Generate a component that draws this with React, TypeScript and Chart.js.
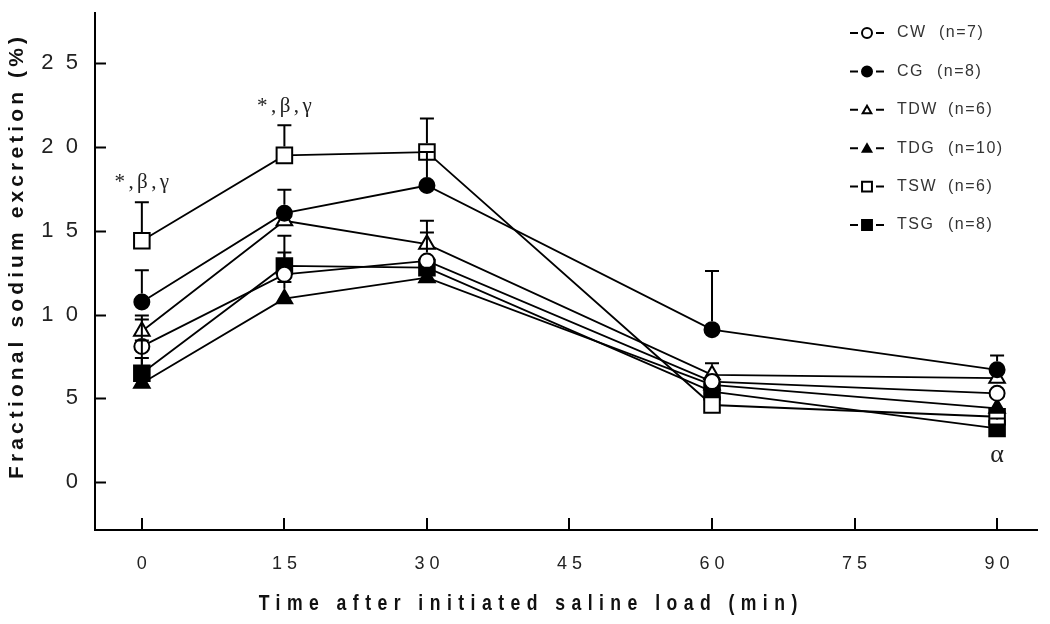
import React, { useEffect, useRef } from 'react';
import { Chart, registerables } from 'chart.js';

Chart.register(...registerables);

// ---- data ----
const times = [0, 15, 30, 60, 90];
const xTickValues = [0, 15, 30, 45, 60, 75, 90];
const yTickValues = [0, 5, 10, 15, 20, 25];

const seriesNames = ['CW  (n=7)', 'CG  (n=8)', 'TDW  (n=6)', 'TDG  (n=10)', 'TSW  (n=6)', 'TSG  (n=8)'];

const cwMean = [8.1, 12.4, 13.2, 6.0, 5.3];
const cwErr = [1.6, 1.3, 1.7, 0.5, 0.5];
const cgMean = [10.75, 16.05, 17.7, 9.1, 6.7];
const cgErr = [1.9, 1.4, 2.0, 3.5, 0.85];
const tdwMean = [9.0, 15.6, 14.2, 6.4, 6.2];
const tdwErr = [0.95, 0.4, 1.4, 0.7, 0.3];
const tdgMean = [5.9, 10.95, 12.2, 5.8, 4.4];
const tdgErr = [1.5, 1.0, 0.6, 0.4, 0.4];
const tswMean = [14.4, 19.5, 19.7, 4.6, 3.9];
const tswErr = [2.3, 1.8, 2.0, 0.5, 0.4];
const tsgMean = [6.5, 12.9, 12.8, 5.4, 3.2];
const tsgErr = [1.95, 1.8, 0.5, 0.4, 0.6];

const annotationTimes = [0, 15, 90];
const annotationValues = [17.9, 22.4, 1.6];
const annotationTexts = ['*,β,γ', '*,β,γ', 'α'];

const xTitle = 'Time after initiated saline load (min)';
const yTitle = 'Fractional sodium excretion (%)';

// ---- styles ----
const styles = [
  { pointStyle: 'circle', fill: '#ffffff', radius: 7.5 },
  { pointStyle: 'circle', fill: '#000000', radius: 7.5 },
  { pointStyle: 'triangle', fill: '#ffffff', radius: 9 },
  { pointStyle: 'triangle', fill: '#000000', radius: 9 },
  { pointStyle: 'rect', fill: '#ffffff', radius: 11 },
  { pointStyle: 'rect', fill: '#000000', radius: 11 },
];

const means = [cwMean, cgMean, tdwMean, tdgMean, tswMean, tsgMean];
const errs = [cwErr, cgErr, tdwErr, tdgErr, tswErr, tsgErr];

function drawMarker(ctx: CanvasRenderingContext2D, style: string, x: number, y: number, r: number, fill: string) {
  ctx.beginPath();
  if (style === 'circle') {
    ctx.arc(x, y, r, 0, Math.PI * 2);
  } else if (style === 'triangle') {
    ctx.moveTo(x, y - r);
    ctx.lineTo(x + r * Math.sin(Math.PI * 2 / 3), y + r * 0.5);
    ctx.lineTo(x - r * Math.sin(Math.PI * 2 / 3), y + r * 0.5);
    ctx.closePath();
  } else {
    const s = r * Math.SQRT1_2;
    ctx.rect(x - s, y - s, 2 * s, 2 * s);
  }
  ctx.fillStyle = fill;
  ctx.fill();
  ctx.lineWidth = 2;
  ctx.strokeStyle = '#000';
  ctx.stroke();
}

function spacedText(ctx: CanvasRenderingContext2D, text: string, x: number, y: number, targetWidth: number, sx = 1) {
  (ctx as any).letterSpacing = '0px';
  const w = ctx.measureText(text).width * sx;
  const n = text.length;
  const sp = Math.max(0, (targetWidth - w) / n);
  ctx.save();
  ctx.translate(x + sp / 2, y);
  ctx.scale(sx, 1);
  (ctx as any).letterSpacing = sp / sx + 'px';
  ctx.fillText(text, 0, 0);
  ctx.restore();
  (ctx as any).letterSpacing = '0px';
}

const customPlugin = {
  id: 'customDecor',
  afterDatasetsDraw(chart: any) {
    const ctx = chart.ctx as CanvasRenderingContext2D;
    const ys = chart.scales.y;
    ctx.save();
    ctx.strokeStyle = '#000';
    ctx.lineWidth = 2;
    chart.data.datasets.forEach((ds: any, i: number) => {
      const meta = chart.getDatasetMeta(i);
      const r = styles[i].radius;
      const half = styles[i].pointStyle === 'rect' ? r * Math.SQRT1_2 : r;
      meta.data.forEach((pt: any, j: number) => {
        const e = errs[i][j];
        const top = ys.getPixelForValue(means[i][j] + e);
        const start = pt.y - half - 1;
        if (top < start) {
          ctx.beginPath();
          ctx.moveTo(pt.x, start);
          ctx.lineTo(pt.x, top);
          ctx.moveTo(pt.x - 7, top);
          ctx.lineTo(pt.x + 7, top);
          ctx.stroke();
        }
      });
    });
    ctx.restore();
  },
  afterDraw(chart: any) {
    const ctx = chart.ctx as CanvasRenderingContext2D;
    const xs = chart.scales.x;
    const ys = chart.scales.y;
    const area = chart.chartArea;
    ctx.save();
    // inward tick marks
    ctx.strokeStyle = '#000';
    ctx.lineWidth = 2;
    yTickValues.forEach((v) => {
      const p = Math.round(ys.getPixelForValue(v)) + 0.5;
      ctx.beginPath();
      ctx.moveTo(area.left, p);
      ctx.lineTo(area.left + 11, p);
      ctx.stroke();
    });
    xTickValues.forEach((v) => {
      const p = Math.round(xs.getPixelForValue(v));
      ctx.beginPath();
      ctx.moveTo(p, area.bottom);
      ctx.lineTo(p, area.bottom - 12);
      ctx.stroke();
    });

    // annotations
    ctx.fillStyle = '#222';
    ctx.textAlign = 'center';
    ctx.textBaseline = 'middle';
    annotationTexts.forEach((t, k) => {
      const x = xs.getPixelForValue(annotationTimes[k]);
      const y = ys.getPixelForValue(annotationValues[k]);
      if (t.length > 1) {
        ctx.font = '21px "Liberation Serif", "Times New Roman", serif';
        spacedText(ctx, t, x, y, 58);
      } else {
        ctx.font = '26px "Liberation Serif", "Times New Roman", serif';
        ctx.fillText(t, x, y);
      }
    });

    // axis titles
    ctx.fillStyle = '#111';
    ctx.textAlign = 'center';
    ctx.textBaseline = 'middle';
    ctx.font = 'bold 22px "Liberation Sans", Arial, sans-serif';
    spacedText(ctx, xTitle, 528, 604, 545, 0.8);
    ctx.font = 'bold 21px "Liberation Sans", Arial, sans-serif';
    ctx.translate(17, 258);
    ctx.rotate(-Math.PI / 2);
    spacedText(ctx, yTitle, 0, 0, 446);
    ctx.setTransform(1, 0, 0, 1, 0, 0);

    // legend
    ctx.font = '16px "Liberation Sans", Arial, sans-serif';
    ctx.textAlign = 'left';
    ctx.textBaseline = 'middle';
    chart.data.datasets.forEach((ds: any, i: number) => {
      const y = 33 + i * 38.4;
      ctx.strokeStyle = '#000';
      ctx.lineWidth = 2;
      ctx.beginPath();
      ctx.moveTo(850, y);
      ctx.lineTo(858, y);
      ctx.moveTo(876, y);
      ctx.lineTo(884, y);
      ctx.stroke();
      drawMarker(ctx, styles[i].pointStyle, 867, y + (styles[i].pointStyle === 'triangle' ? 1 : 0), styles[i].pointStyle === 'rect' ? 7 : 5, styles[i].fill);
      ctx.fillStyle = '#333';
      const parts = String(ds.label).split('  ');
      (ctx as any).letterSpacing = '1.5px';
      ctx.fillText(parts[0], 897, y);
      ctx.fillText(parts[1], i === 0 ? 939 : i === 1 ? 937 : 948, y);
      (ctx as any).letterSpacing = '0px';
    });
    ctx.restore();
  },
};

export default function App() {
  const ref = useRef<HTMLCanvasElement>(null);
  useEffect(() => {
    if (!ref.current) return;
    const datasets = seriesNames.map((name, i) => ({
      label: name,
      data: times.map((t, j) => ({ x: t, y: means[i][j] })),
      borderColor: '#000',
      borderWidth: 1.8,
      pointStyle: styles[i].pointStyle,
      pointRadius: styles[i].radius,
      pointBackgroundColor: styles[i].fill,
      pointBorderColor: '#000',
      pointBorderWidth: 2,
      tension: 0,
      fill: false,
    }));
    const chart = new Chart(ref.current, {
      type: 'line',
      data: { datasets },
      options: {
        responsive: false,
        animation: false,
        layout: { padding: { top: 12, right: 10, left: 0, bottom: 0 } },
        plugins: { legend: { display: false }, tooltip: { enabled: false } },
        scales: {
          x: {
            type: 'linear',
            min: -4.93,
            max: 94.2,
            afterBuildTicks: (s: any) => { s.ticks = xTickValues.map((v) => ({ value: v })); },
            afterFit: (s: any) => { s.height = 94; s.paddingLeft = 0; s.paddingRight = 0; },
            grid: { display: false, drawTicks: false },
            border: { display: true, color: '#000', width: 2 },
            ticks: {
              padding: 23,
              color: '#222',
              font: { family: '"Liberation Sans", Arial, sans-serif', size: 18 },
              callback: (v: any) => String(v).split('').join(' '),
              maxRotation: 0,
            },
          },
          y: {
            type: 'linear',
            min: -2.86,
            max: 28,
            afterBuildTicks: (s: any) => { s.ticks = yTickValues.map((v) => ({ value: v })); },
            afterFit: (s: any) => { s.width = 95; s.paddingTop = 0; s.paddingBottom = 0; },
            grid: { display: false, drawTicks: false },
            border: { display: true, color: '#000', width: 2 },
            ticks: {
              padding: 17,
              color: '#222',
              font: { family: '"Liberation Sans", Arial, sans-serif', size: 22 },
              callback: (v: any) => String(v).split('').join('  '),
            },
          },
        },
      },
      plugins: [customPlugin],
    } as any);
    return () => chart.destroy();
  }, []);
  return (
    <div style={{ position: 'fixed', left: 0, top: 0, width: 1050, height: 624, background: '#fff' }}>
      <canvas ref={ref} width={1050} height={624} style={{ display: 'block' }} />
    </div>
  );
}
